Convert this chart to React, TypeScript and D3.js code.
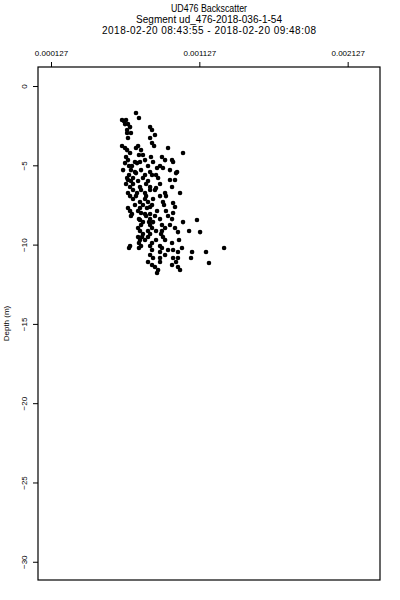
import React, { useEffect, useRef } from 'react';
import * as d3 from 'd3';

const titleLines = [
  "UD476 Backscatter",
  "Segment ud_476-2018-036-1-54",
  "2018-02-20 08:43:55 - 2018-02-20 09:48:08",
];
const xTicks = [0.000127, 0.001127, 0.002127];
const xTickLabels = ["0.000127", "0.001127", "0.002127"];
const yTicks = [0, -5, -10, -15, -20, -25, -30];
const yLabel = "Depth (m)";

// depth (m) of each sample, same order as backscatter below
const depth = [
  -1.70, -2.02, -2.14, -2.14, -2.21, -2.40, -2.40, -2.59, -2.59, -2.77, -2.77,
  -2.96, -2.96, -3.09, -3.28, -3.28, -3.59, -3.78, -3.78, -3.78,
  -3.91, -3.91, -3.91, -4.04, -4.04, -4.22, -4.22, -4.35, -4.35,
  -4.48, -4.48, -4.48, -4.67, -4.67, -4.67, -4.67,
  -4.79, -4.79, -4.79, -4.79, -4.86, -4.86,
  -5.04, -5.04, -5.04, -5.04, -5.17, -5.17,
  -5.30, -5.30, -5.30, -5.30, -5.42, -5.42, -5.42, -5.49, -5.49,
  -5.61, -5.61, -5.61, -5.61, -5.80, -5.80, -5.80, -5.80,
  -5.93, -5.93, -5.93, -5.99, -5.99, -5.99,
  -6.18, -6.18, -6.18, -6.18, -6.37, -6.37, -6.37, -6.37, -6.43,
  -6.56, -6.56, -6.56, -6.56, -6.75, -6.75, -6.75, -6.75, -6.75,
  -6.94, -6.94, -6.94, -6.94, -6.94, -7.12, -7.12, -7.12,
  -7.31, -7.31, -7.31, -7.38, -7.50, -7.50, -7.50, -7.50, -7.63, -7.63,
  -7.69, -7.69, -7.69, -7.88, -7.88, -7.88, -7.88, -8.01, -8.01,
  -8.07, -8.07, -8.07, -8.20, -8.20, -8.20, -8.20,
  -8.39, -8.39, -8.39, -8.39, -8.45, -8.45,
  -8.58, -8.58, -8.58, -8.58, -8.76, -8.76, -8.76, -8.76,
  -8.95, -8.95, -8.95, -8.95, -9.14, -9.14, -9.14, -9.14, -9.14, -9.21, -9.21,
  -9.33, -9.33, -9.33, -9.52, -9.52, -9.52, -9.52,
  -9.71, -9.71, -9.71, -9.71, -9.71, -9.90, -9.90, -9.90,
  -10.09, -10.09, -10.09, -10.09, -10.21, -10.21, -10.21, -10.21, -10.21,
  -10.34, -10.34, -10.34, -10.47, -10.47, -10.47, -10.47, -10.66, -10.66,
  -10.84, -10.84, -10.84, -10.84, -10.84, -11.10, -11.10, -11.10, -11.16,
  -11.29, -11.29, -11.41, -11.41, -11.60, -11.60, -11.79,
];

const backscatter = [
  0.000700, 0.000720, 0.000606, 0.000633, 0.000619, 0.000646, 0.000626, 0.000660, 0.000795, 0.000808, 0.000640,
  0.000640, 0.000666, 0.000828, 0.000646, 0.000795, 0.000808, 0.000606, 0.000714, 0.000822,
  0.000626, 0.000700, 0.000916, 0.000640, 0.000734, 0.000660, 0.001017, 0.000747, 0.000720,
  0.000633, 0.000801, 0.000875, 0.000646, 0.000761, 0.000896, 0.000943,
  0.000693, 0.000727, 0.000815, 0.000950, 0.000626, 0.000707,
  0.000653, 0.000673, 0.000781, 0.000862, 0.000842, 0.000882,
  0.000613, 0.000666, 0.000734, 0.000929, 0.000693, 0.000795, 0.000977, 0.000700, 0.000970,
  0.000653, 0.000761, 0.000808, 0.000835, 0.000640, 0.000680, 0.000747, 0.000849,
  0.000646, 0.000929, 0.000963, 0.000666, 0.000714, 0.000781,
  0.000633, 0.000680, 0.000768, 0.000862, 0.000660, 0.000727, 0.000795, 0.000943, 0.000835,
  0.000680, 0.000734, 0.000795, 0.000828, 0.000646, 0.000707, 0.000761, 0.000896, 0.000997,
  0.000660, 0.000700, 0.000768, 0.000862, 0.000902, 0.000680, 0.000761, 0.000815,
  0.000727, 0.000781, 0.000882, 0.000950, 0.000693, 0.000747, 0.000808, 0.000889, 0.000795, 0.000963,
  0.000646, 0.000727, 0.000774, 0.000660, 0.000714, 0.000842, 0.000902, 0.000734, 0.000950,
  0.000673, 0.000761, 0.000795, 0.000666, 0.000768, 0.000828, 0.000916,
  0.000720, 0.000795, 0.000862, 0.000943, 0.000727, 0.001111,
  0.000747, 0.000788, 0.000815, 0.001017, 0.000734, 0.000795, 0.000875, 0.000929,
  0.000714, 0.000808, 0.000896, 0.000963, 0.000727, 0.000781, 0.000835, 0.000875, 0.001058, 0.000983, 0.001132,
  0.000747, 0.000795, 0.000869, 0.000714, 0.000741, 0.000781, 0.000882,
  0.000727, 0.000761, 0.000835, 0.000896, 0.000990, 0.000720, 0.000808, 0.000943,
  0.000660, 0.000734, 0.000795, 0.000862, 0.000653, 0.000720, 0.000875, 0.001010, 0.001294,
  0.000808, 0.000916, 0.000950, 0.000862, 0.000983, 0.001078, 0.001172, 0.000795, 0.000896,
  0.000815, 0.000862, 0.000950, 0.000983, 0.001071, 0.000781, 0.000862, 0.000970, 0.001192,
  0.000808, 0.000943, 0.000828, 0.000983, 0.000849, 0.000997, 0.000842,
];

const App = () => {
  const svgRef = useRef<SVGSVGElement>(null);

  useEffect(() => {
    const svg = d3.select(svgRef.current);
    svg.selectAll('*').remove();

    // plot box
    const left = 38, right = 380, top = 67, bottom = 580;
    const font = 'Liberation Sans, Arial, sans-serif';
    // rendered widths of the three title lines in the original
    const titleWidths = [76, 146, 214];

    const xScale = d3.scaleLinear().domain([0.0000393, 0.002345]).range([left, right]);
    const yScale = d3.scaleLinear().domain([1.2, -31.15]).range([top, bottom]);

    // titles
    svg.selectAll('.title')
      .data(titleLines)
      .enter()
      .append('text')
      .attr('class', 'title')
      .attr('x', (left + right) / 2)
      .attr('y', (d, i) => 12 + i * 11)
      .attr('text-anchor', 'middle')
      .attr('font-family', font)
      .attr('font-size', '10px')
      .attr('textLength', (d, i) => titleWidths[i])
      .attr('lengthAdjust', (d, i) => (i === 0 ? 'spacingAndGlyphs' : 'spacing'))
      .text(d => d);

    // top axis
    const xAxis = d3.axisTop(xScale)
      .tickValues(xTicks)
      .tickSize(5)
      .tickPadding(6)
      .tickFormat((d, i) => xTickLabels[i]);
    const gx = svg.append('g').attr('transform', `translate(0, ${top})`).call(xAxis);
    gx.select('.domain').remove();
    gx.selectAll('text').attr('font-family', font).attr('font-size', '8px').attr('fill', '#000');
    gx.selectAll('line').attr('stroke', '#000');

    // left axis, labels parallel to the axis
    const yAxis = d3.axisLeft(yScale).tickValues(yTicks).tickSize(5).tickFormat(d3.format('d'));
    const gy = svg.append('g').attr('transform', `translate(${left}, 0)`).call(yAxis);
    gy.select('.domain').remove();
    gy.selectAll('line').attr('stroke', '#000');
    gy.selectAll('text')
      .attr('x', null)
      .attr('dy', null)
      .attr('text-anchor', 'middle')
      .attr('transform', 'translate(-11, 0) rotate(-90)')
      .attr('font-family', font)
      .attr('font-size', '8px')
      .attr('fill', '#000');

    svg.append('text')
      .attr('transform', `translate(9, ${(top + bottom) / 2}) rotate(-90)`)
      .attr('text-anchor', 'middle')
      .attr('font-family', font)
      .attr('font-size', '8px')
      .text(yLabel);

    svg.append('rect')
      .attr('x', left)
      .attr('y', top)
      .attr('width', right - left)
      .attr('height', bottom - top)
      .attr('fill', 'none')
      .attr('stroke', '#000')
      .attr('stroke-width', 1.2);

    svg.selectAll('.pt')
      .data(depth)
      .enter()
      .append('circle')
      .attr('class', 'pt')
      .attr('cx', (d, i) => xScale(backscatter[i]))
      .attr('cy', d => yScale(d))
      .attr('r', 2.3)
      .attr('fill', '#000');
  }, []);

  return (
    <svg ref={svgRef} width={400} height={600}
      style={{ position: 'absolute', left: 0, top: 0, background: '#fff' }} />
  );
};

export default App;
